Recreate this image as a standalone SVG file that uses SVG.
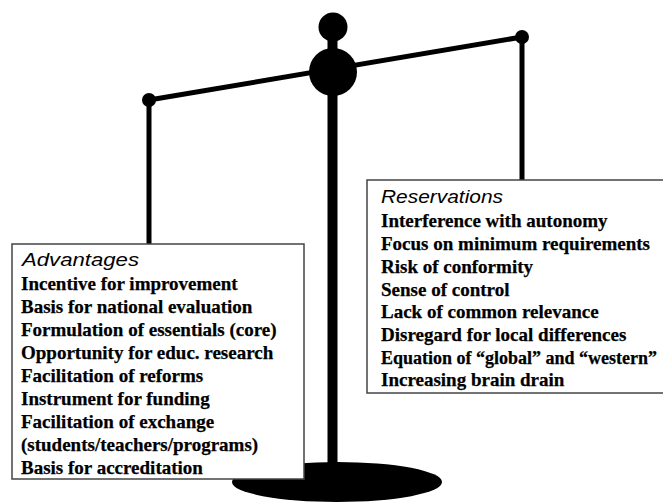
<svg xmlns="http://www.w3.org/2000/svg" width="663" height="504" viewBox="0 0 663 504">
<style>
.box{fill:#fff;stroke:#444;stroke-width:1.5}
.hd{font-family:"Liberation Sans",Arial,sans-serif;font-style:italic;font-size:18.5px;fill:#000}
.it{font-family:"Liberation Serif","Times New Roman",serif;font-weight:bold;font-size:19px;fill:#000;stroke:#000;stroke-width:0.25}
.bar{stroke:#000;fill:none}
</style>
<rect width="663" height="504" fill="#fff"/>
<g id="scale">
<ellipse cx="337" cy="482" rx="105" ry="20" fill="#000"/>
<line class="bar" x1="332.5" y1="40" x2="332.5" y2="466" stroke-width="10"/>
<circle cx="333" cy="27" r="14.5" fill="#000"/>
<line class="bar" x1="149" y1="100" x2="522" y2="37" stroke-width="5"/>
<circle cx="333" cy="72" r="24" fill="#000"/>
<circle cx="149" cy="100" r="7" fill="#000"/>
<circle cx="522" cy="37" r="7" fill="#000"/>
</g>
<g id="connectors">
<line class="bar" x1="149" y1="100" x2="149" y2="244" stroke-width="5"/>
<line class="bar" x1="522" y1="37" x2="522" y2="180" stroke-width="5"/>
</g>
<g id="advantages">
<rect class="box" x="12" y="244" width="292" height="235"/>
<text class="hd" x="22" y="266" textLength="117" lengthAdjust="spacingAndGlyphs">Advantages</text>
<text class="it" x="21" y="290">Incentive for improvement</text>
<text class="it" x="21" y="313">Basis for national evaluation</text>
<text class="it" x="21" y="336">Formulation of essentials (core)</text>
<text class="it" x="21" y="359">Opportunity for educ. research</text>
<text class="it" x="21" y="382">Facilitation of reforms</text>
<text class="it" x="21" y="405">Instrument for funding</text>
<text class="it" x="21" y="428">Facilitation of exchange</text>
<text class="it" x="21" y="451">(students/teachers/programs)</text>
<text class="it" x="21" y="474">Basis for accreditation</text>
</g>
<g id="reservations">
<rect class="box" x="367" y="180" width="310" height="213"/>
<text class="hd" x="381" y="203" textLength="122" lengthAdjust="spacingAndGlyphs">Reservations</text>
<text class="it" x="381" y="227">Interference with autonomy</text>
<text class="it" x="381" y="250">Focus on minimum requirements</text>
<text class="it" x="381" y="273">Risk of conformity</text>
<text class="it" x="381" y="296">Sense of control</text>
<text class="it" x="381" y="318">Lack of common relevance</text>
<text class="it" x="381" y="341">Disregard for local differences</text>
<text class="it" x="381" y="364" style="font-size:18px">Equation of “global” and “western”</text>
<text class="it" x="381" y="386">Increasing brain drain</text>
</g>
</svg>
